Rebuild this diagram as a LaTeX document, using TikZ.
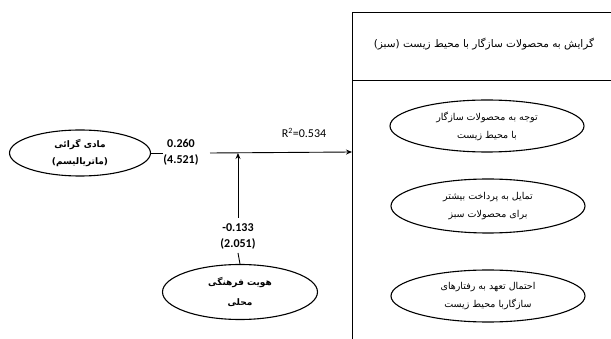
\documentclass[tikz,border=0pt]{standalone}
\usepackage{fontspec}
\usetikzlibrary{shapes.geometric,arrows.meta}
\TeXXeTstate=1
\newfontfamily\fa[Script=Arabic]{DejaVu Sans}
\newfontfamily\num{Carlito}
\begin{document}
\begin{tikzpicture}[x=1pt,y=-1pt,
  oval/.style={draw=black,line width=1.1pt,ellipse,inner sep=0pt,align=center},
  fatext/.style={font=\fa\fontsize{9.5}{18}\selectfont},
  fabold/.style={font=\fa\bfseries\fontsize{9}{17}\selectfont},
  coef/.style={font=\num\bfseries\fontsize{12}{16}\selectfont,align=center,inner sep=1pt},
  conn/.style={draw=black,line width=0.9pt},
  arr/.style={conn,-{Stealth[length=6pt,width=5pt]}}]
\useasboundingbox (0,0) rectangle (611,339);
\clip (0,0) rectangle (611,339);
% big box
\draw[line width=1pt] (352,13) rectangle (630,360);
\draw[line width=1pt] (352,81) -- (630,81);
\coordinate (bx) at (352,152);
\node[font=\fa\fontsize{10.5}{14}\selectfont] (title) at (484,44) {\beginR گرایش به محصولات سازگار با محیط زیست (سبز)\endR};
% right ellipses
\node[oval,fatext,minimum width=194pt,minimum height=52pt] (e1) at (487,126) {\beginR توجه به محصولات سازگار\endR\\\beginR با محیط زیست\endR};
\node[oval,fatext,minimum width=194pt,minimum height=54pt] (e2) at (488,206) {\beginR تمایل به پرداخت بیشتر\endR\\\beginR برای محصولات سبز\endR};
\node[oval,fatext,minimum width=194pt,minimum height=52pt] (e3) at (488,296) {\beginR احتمال تعهد به رفتارهای\endR\\\beginR سازگاربا محیط زیست\endR};
% left ellipse
\node[oval,fabold,minimum width=141pt,minimum height=46pt] (L) at (80,153) {\beginR مادی گرائی\endR\\\beginR (ماتریالیسم)\endR};
% bottom ellipse
\node[oval,fabold,font=\fa\bfseries\fontsize{9}{20}\selectfont,minimum width=155pt,minimum height=55pt] (B) at (240,292) {\beginR هویت فرهنگی\endR\\\beginR محلی\endR};
% coefficients
\node[coef] (c1) at (181,152) {0.260\\(4.521)};
\node[coef] (c2) at (238,236) {-0.133\\(2.051)};
\node[coef,font=\num\fontsize{12}{14}\selectfont] (r2) at (304,133) {R\textsuperscript{2}=0.534};
\coordinate (j) at (238,153);
\coordinate (a1) at (163,153);
\coordinate (a2) at (210,153);
\coordinate (v1) at (238,218);
\coordinate (v2) at (238,253);
\draw[conn] (L.east) -- (a1);
\draw[arr] (a2) -- (bx);
\draw[arr] (v1) -- (j);
\draw[conn] (v2) -- (B.north);
\end{tikzpicture}
\end{document}
